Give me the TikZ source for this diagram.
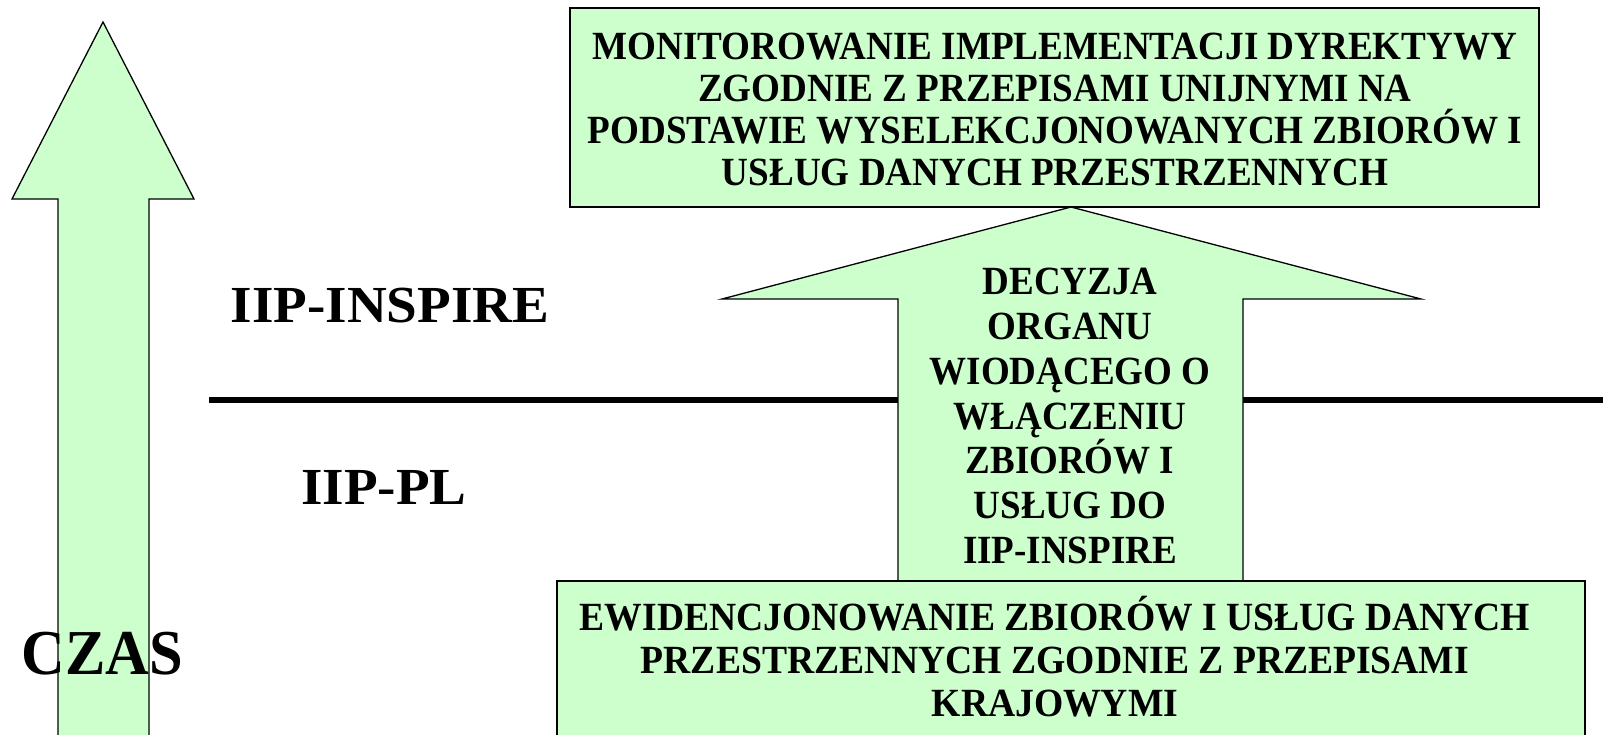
\documentclass[tikz,border=0pt]{standalone}
\usepackage{fontspec}
\setmainfont{Liberation Serif}
\newfontfamily\condbox[FakeStretch=0.928]{Liberation Serif}
\newfontfamily\condmid[FakeStretch=0.925]{Liberation Serif}
\newfontfamily\condbot[FakeStretch=0.94]{Liberation Serif}
\newfontfamily\widelab[FakeStretch=1.06]{Liberation Serif}
\newfontfamily\condczas[FakeStretch=0.945]{Liberation Serif}
\definecolor{lgreen}{RGB}{204,255,204}
\tikzset{
  shapefill/.style={fill=lgreen,draw=black,line width=1.3pt,line join=miter},
  boxtext/.style={font=\condbox\fontsize{40}{42}\selectfont\bfseries,align=center,inner sep=0pt},
  arrowtext/.style={font=\condmid\fontsize{40}{44.8}\selectfont\bfseries,align=center,inner sep=0pt},
  bottext/.style={font=\condbot\fontsize{40}{43}\selectfont\bfseries,align=center,inner sep=0pt},
  bigtext/.style={font=\widelab\fontsize{52}{60}\selectfont\bfseries,inner sep=0pt},
}
\begin{document}
\begin{tikzpicture}[x=1pt,y=-1pt]
\useasboundingbox (0,0) rectangle (1603,734);
% timeline separator
\coordinate (la) at (209,400);
\coordinate (lb) at (1610,400);
\draw[line width=6pt] (la) -- (lb);
% left time arrow
\draw[shapefill] (58,745) -- (58,199) -- (12,199) -- (103,22) -- (194,199) -- (149,199) -- (149,745);
% central arrow
\draw[shapefill] (898,581) -- (898,299) -- (722,299) -- (1071,207) -- (1421,299) -- (1243,299) -- (1243,581);
% top box
\draw[shapefill] (570,8) rectangle (1539,207);
% bottom box
\draw[shapefill] (557,581) rectangle (1585,750);
% texts
\node[boxtext] (top) at (1055,109) {MONITOROWANIE IMPLEMENTACJI DYREKTYWY\\ZGODNIE Z PRZEPISAMI UNIJNYMI NA\\PODSTAWIE WYSELEKCJONOWANYCH ZBIORÓW I\\USŁUG DANYCH PRZESTRZENNYCH};
\node[arrowtext] (mid) at (1070,416) {DECYZJA\\ORGANU\\WIODĄCEGO O\\WŁĄCZENIU\\ZBIORÓW I\\USŁUG DO\\IIP-INSPIRE};
\node[bottext] (bot) at (1055,657) {EWIDENCJONOWANIE ZBIORÓW I USŁUG DANYCH\\PRZESTRZENNYCH ZGODNIE Z PRZEPISAMI\\KRAJOWYMI};
\node[bigtext] (inspire) at (390,306) {IIP-INSPIRE};
\node[bigtext] (pl) at (384,487) {IIP-PL};
\node[font=\condczas\fontsize{64}{70}\selectfont\bfseries,inner sep=0pt] (czas) at (102,654) {CZAS};
\end{tikzpicture}
\end{document}
